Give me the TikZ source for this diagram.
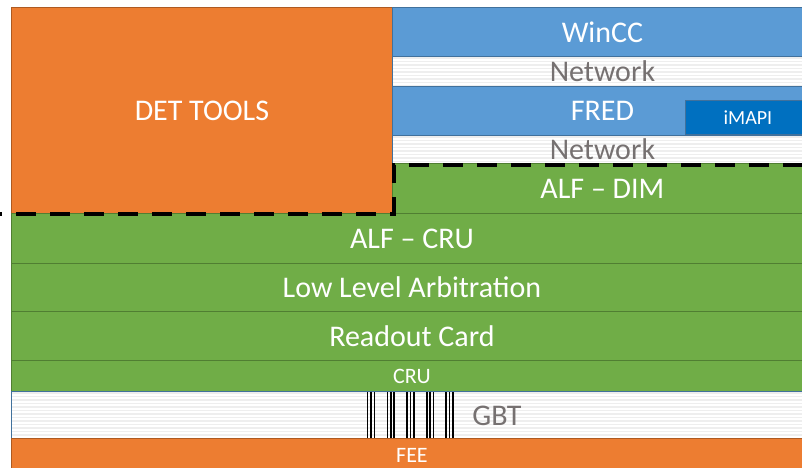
\documentclass[tikz,border=0pt]{standalone}
\usepackage{fontspec}
\setmainfont{Carlito}
\definecolor{detorange}{RGB}{237,125,49}
\definecolor{orangeline}{RGB}{174,90,33}
\definecolor{layerblue}{RGB}{91,155,213}
\definecolor{blueline}{RGB}{65,113,156}
\definecolor{layergreen}{RGB}{112,173,71}
\definecolor{greenline}{RGB}{80,126,50}
\definecolor{imapiblue}{RGB}{0,112,192}
\definecolor{netgray}{RGB}{118,113,113}

\begin{document}
\begin{tikzpicture}[x=1pt,y=-1pt,
    layer/.style={draw,line width=0.9pt,inner sep=0pt,anchor=north west,text=white,font=\fontsize{30}{30}\selectfont},
    orange layer/.style={layer,fill=detorange,draw=orangeline},
    blue layer/.style={layer,fill=layerblue,draw=blueline},
    green layer/.style={layer,fill=layergreen,draw=greenline},
    net layer/.style={layer,fill=white,draw=blueline,text=netgray,
        path picture={\foreach \s in {1.5,5,...,50}
            \draw[gray!13,line width=1.6pt] ([yshift=-\s pt]path picture bounding box.north west) -- ([yshift=-\s pt]path picture bounding box.north east);}},
    small text/.style={font=\fontsize{22}{22}\selectfont},
    gbt link/.style={black,line width=1.7pt},
    det border/.style={black,line width=4pt,dash pattern=on 20pt off 14pt,dash phase=18pt}]
    \useasboundingbox (0,0) rectangle (802,467);
    \clip (0,0) rectangle (802,467);

    \node[orange layer,minimum width=381pt,minimum height=206pt] (dettools) at (11,7) {DET TOOLS};

    \node[blue layer,minimum width=420pt,minimum height=49pt] (wincc) at (392,7) {WinCC};
    \node[net layer,minimum width=420pt,minimum height=30pt] (net1) at (392,56) {Network};
    \node[blue layer,minimum width=420pt,minimum height=49pt] (fred) at (392,86) {FRED};
    \node[layer,fill=imapiblue,draw=blueline,minimum width=125pt,minimum height=34pt,font=\fontsize{20}{20}\selectfont] (imapi) at (685,100) {iMAPI};
    \node[net layer,minimum width=420pt,minimum height=28pt] (net2) at (392,135) {Network};
    \node[green layer,minimum width=420pt,minimum height=50pt] (alfdim) at (392,163) {ALF -- DIM};

    \node[green layer,minimum width=801pt,minimum height=50pt] (alfcru) at (11,213) {ALF -- CRU};
    \node[green layer,minimum width=801pt,minimum height=48pt] (lla) at (11,263) {Low Level Arbitration};
    \node[green layer,minimum width=801pt,minimum height=49pt] (readout) at (11,311) {Readout Card};
    \node[green layer,small text,minimum width=801pt,minimum height=31pt] (cru) at (11,360) {CRU};
    \node[net layer,minimum width=801pt,minimum height=47pt] (gbt) at (11,391) {};
    \node[orange layer,small text,minimum width=801pt,minimum height=34pt] (fee) at (11,438) {FEE};

    \foreach \g in {371,390.8,410.4,430.2,449.6}
        \foreach \o in {-3.4,0,3.4}
            \draw[gbt link] (\g+\o,392) -- (\g+\o,437.5);
    \node[text=netgray,font=\fontsize{30}{30}\selectfont,inner sep=0pt] (gbtlabel) at (497,416) {GBT};

    \coordinate (borderstart) at (0,213.5);
    \coordinate (bordercorner) at (393.5,213.5);
    \coordinate (borderstep) at (393.5,164.5);
    \coordinate (borderend) at (812,164.5);
    \draw[det border] (borderstart) -- (bordercorner) -- (borderstep) -- (borderend);
\end{tikzpicture}
\end{document}
